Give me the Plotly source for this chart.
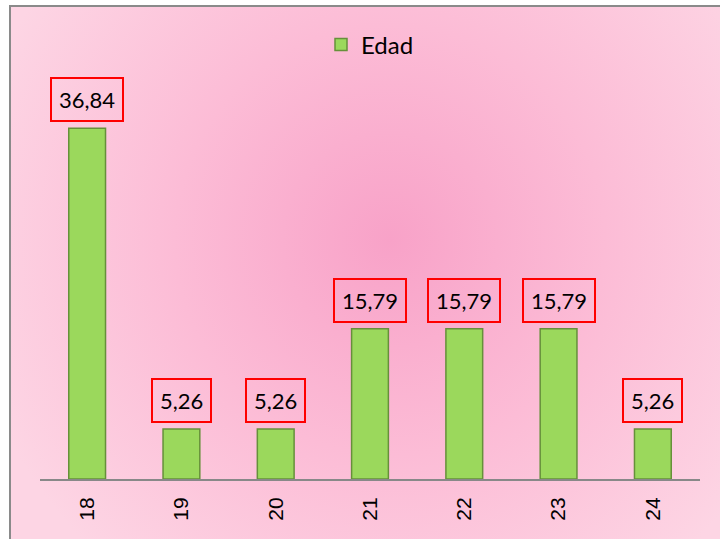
import plotly.graph_objects as go
import base64

categories = ["18", "19", "20", "21", "22", "23", "24"]
values = [36.84, 5.26, 5.26, 15.79, 15.79, 15.79, 5.26]
value_labels = ["36,84", "5,26", "5,26", "15,79", "15,79", "15,79", "5,26"]
series_name = "Edad"

W, H = 720, 539
L, R, T, B = 40, 20, 100, 60
pw, ph = W - L - R, H - T - B

svg = f'''<svg xmlns="http://www.w3.org/2000/svg" width="{W}" height="{H}" viewBox="0 0 {W} {H}">
<defs><radialGradient id="g" cx="390" cy="240" r="430" gradientUnits="userSpaceOnUse">
<stop offset="0" stop-color="#f8a2c8"/>
<stop offset="0.5" stop-color="#fcbcd6"/>
<stop offset="1" stop-color="#fdd5e4"/>
</radialGradient></defs>
<rect x="0" y="0" width="{W}" height="{H}" fill="#ffffff"/>
<rect x="10" y="6" width="{W+10}" height="{H+10}" fill="url(#g)" stroke="#8a8a8a" stroke-width="2"/>
</svg>'''
src = "data:image/svg+xml;base64," + base64.b64encode(svg.encode()).decode()

fig = go.Figure()
fig.add_trace(go.Bar(
    x=categories, y=values, name=series_name, width=0.39,
    marker=dict(color="#9bd85c", line=dict(color="#66903a", width=1.5)),
    showlegend=True,
))

for i, (v, t) in enumerate(zip(values, value_labels)):
    fig.add_annotation(x=i, y=v, text=t, showarrow=False, yanchor="bottom", yshift=6,
                       font=dict(family="Lato, Open Sans, sans-serif", size=22, color="#000"),
                       bordercolor="#ff0000", borderwidth=2, borderpad=7,
                       bgcolor="rgba(0,0,0,0)")

fig.update_layout(
    width=W, height=H,
    margin=dict(l=L, r=R, t=T, b=B, autoexpand=False),
    paper_bgcolor="#ffffff",
    plot_bgcolor="rgba(255,255,255,0.18)",
    images=[dict(source=src, xref="paper", yref="paper", x=-L / pw, y=1 + T / ph,
                 sizex=W / pw, sizey=H / ph, sizing="stretch", xanchor="left", yanchor="top",
                 layer="below")],
    legend=dict(orientation="h", x=0.5, xanchor="center", y=1 + 55 / ph, yanchor="middle",
                font=dict(family="Lato, Open Sans, sans-serif", size=24, color="#000"),
                bgcolor="rgba(0,0,0,0)"),
    xaxis=dict(type="category", range=[-0.5, len(categories) - 0.5], showline=True,
               linecolor="#888888", linewidth=2, tickangle=-90,
               ticks="", ticklabelstandoff=8,
               tickfont=dict(family="Liberation Sans, Arial, sans-serif", size=21, color="#000"),
               showgrid=False, zeroline=False),
    yaxis=dict(range=[0, 39.8], visible=False, showgrid=False),
)

fig.write_html("out.html", config={"displayModeBar": False},
               post_script="document.body.style.margin='0';document.body.style.padding='0';")
